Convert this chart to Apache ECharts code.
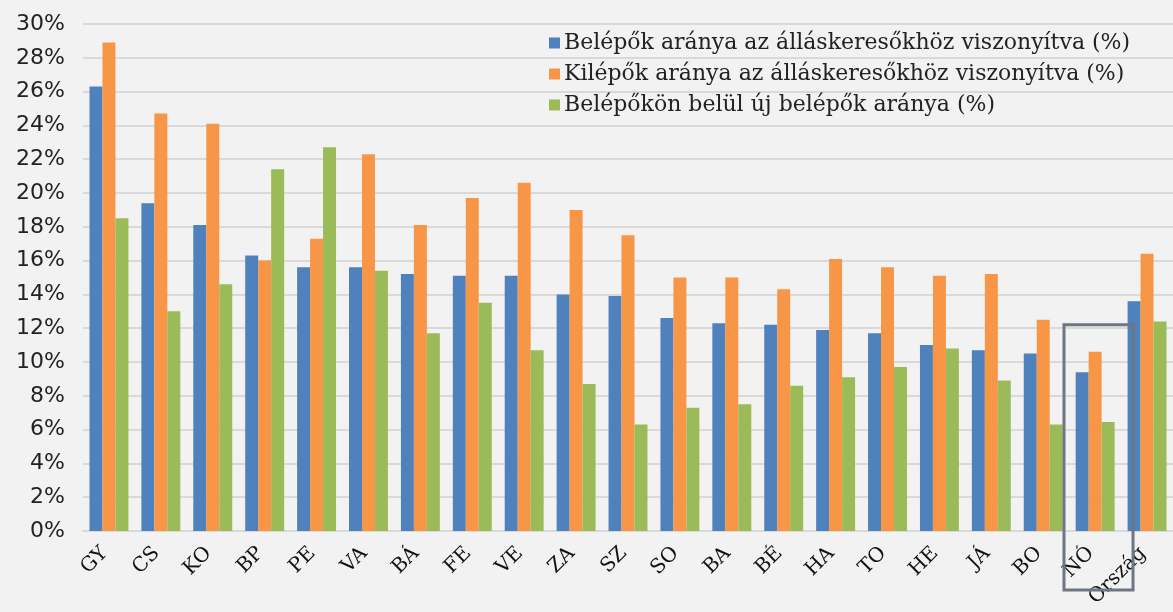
<!DOCTYPE html>
<html>
<head>
<meta charset="utf-8">
<script src="https://cdn.jsdelivr.net/npm/echarts@6/dist/echarts.min.js"></script>
<style>
  html, body { margin: 0; padding: 0; background: #f2f2f2; }
  #chart { width: 1173px; height: 612px; }
</style>
</head>
<body>
<div id="chart"></div>
<script>
// megyék
var categories = ['GY', 'CS', 'KO', 'BP', 'PE', 'VA', 'BÁ', 'FE', 'VE', 'ZA', 'SZ',
  'SO', 'BA', 'BÉ', 'HA', 'TO', 'HE', 'JÁ', 'BO', 'NÓ', 'Ország'];
var belepok = [26.3, 19.4, 18.1, 16.3, 15.6, 15.6, 15.2, 15.1, 15.1, 14.0, 13.9,
  12.6, 12.3, 12.2, 11.9, 11.7, 11.0, 10.7, 10.5, 9.4, 13.6];
var kilepok = [28.9, 24.7, 24.1, 16.0, 17.3, 22.3, 18.1, 19.7, 20.6, 19.0, 17.5,
  15.0, 15.0, 14.3, 16.1, 15.6, 15.1, 15.2, 12.5, 10.6, 16.4];
var ujBelepok = [18.5, 13.0, 14.6, 21.4, 22.7, 15.4, 11.7, 13.5, 10.7, 8.7, 6.3,
  7.3, 7.5, 8.6, 9.1, 9.7, 10.8, 8.9, 6.3, 6.45, 12.4];
var seriesNames = ['Belépők aránya az álláskeresőkhöz viszonyítva (%)',
  'Kilépők aránya az álláskeresőkhöz viszonyítva (%)',
  'Belépőkön belül új belépők aránya (%)'];
var highlight = 'NÓ';

var serif = '"DejaVu Serif", "Liberation Serif", serif';
var chart = echarts.init(document.getElementById('chart'));

var option = {
  backgroundColor: '#f2f2f2',
  animation: false,
  color: ['#4f81bd', '#f79646', '#9bbb59'],
  grid: {left: 83, right: 0, top: 24, bottom: 81, containLabel: false},
  legend: {
    orient: 'vertical',
    left: 544,
    top: 27,
    itemWidth: 11,
    itemHeight: 11,
    itemGap: 9,
    icon: 'rect',
    textStyle: {fontFamily: serif, fontSize: 22, color: '#222', padding: [0, 0, 0, -1]},
    data: seriesNames
  },
  xAxis: {
    type: 'category',
    data: categories,
    axisLine: {lineStyle: {color: '#d9d9d9', width: 2}},
    axisTick: {show: false},
    axisLabel: {
      rotate: 45,
      interval: 0,
      margin: 15,
      fontFamily: serif,
      fontSize: 20,
      color: '#111',
      padding: [0, 6, 0, 0]
    }
  },
  yAxis: {
    type: 'value',
    min: 0,
    max: 30,
    interval: 2,
    axisLine: {show: false},
    axisTick: {show: false},
    splitLine: {lineStyle: {color: '#d9d9d9', width: 2}},
    axisLabel: {
      formatter: '{value}%',
      margin: 18,
      fontFamily: '"DejaVu Sans", sans-serif',
      fontSize: 22,
      color: '#222'
    }
  },
  series: [
    {name: seriesNames[0], type: 'bar', data: belepok, barGap: '0%', barCategoryGap: '25%'},
    {name: seriesNames[1], type: 'bar', data: kilepok, barGap: '0%', barCategoryGap: '25%'},
    {name: seriesNames[2], type: 'bar', data: ujBelepok, barGap: '0%', barCategoryGap: '25%'}
  ]
};
chart.setOption(option);

// keret a kiemelt megye körül
var idx = categories.indexOf(highlight);
var cx = chart.convertToPixel({xAxisIndex: 0}, idx);
var cx2 = chart.convertToPixel({xAxisIndex: 0}, idx + 1);
var cw = cx2 - cx;
var boxTop = chart.convertToPixel({yAxisIndex: 0}, 12.2);
chart.setOption({
  graphic: [{
    type: 'rect',
    shape: {x: cx - cw * 0.6, y: boxTop, width: cw * 1.33, height: 590 - boxTop},
    style: {fill: 'none', stroke: '#6e7584', lineWidth: 3},
    z: 100
  }]
});
</script>
</body>
</html>
